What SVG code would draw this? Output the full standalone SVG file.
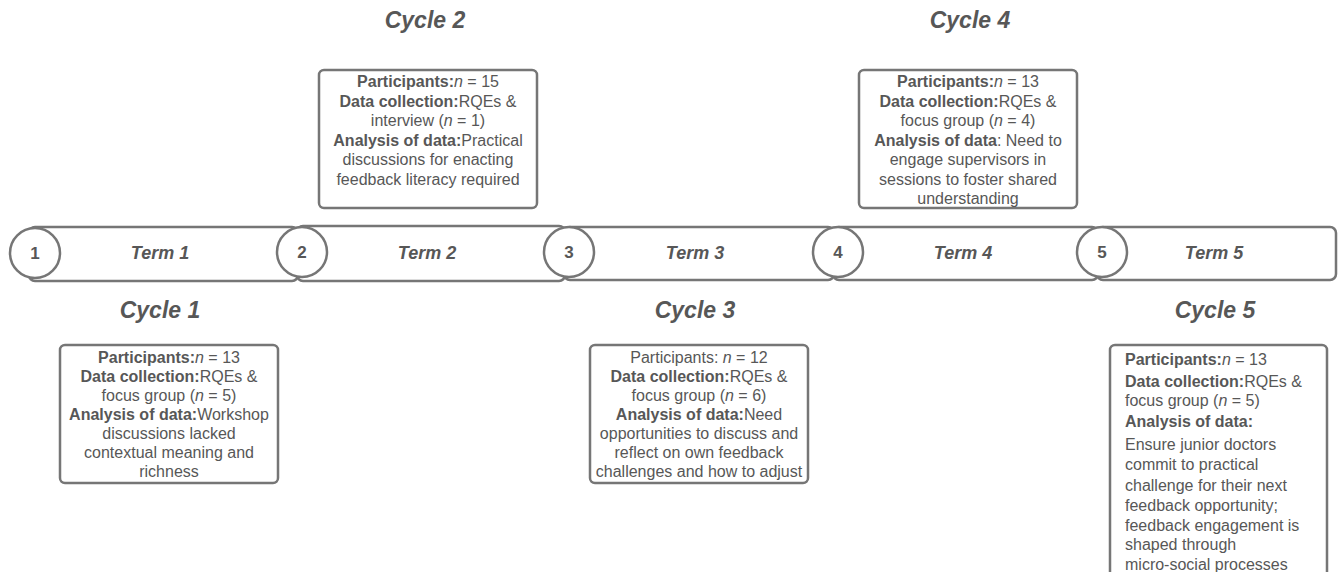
<svg xmlns="http://www.w3.org/2000/svg" width="1341" height="572" viewBox="0 0 1341 572">
<style>
text{font-family:"Liberation Sans",Arial,sans-serif;fill:#575757}
.h{font-size:23px;font-weight:bold;font-style:italic;text-anchor:middle}
.t{font-size:18px;font-weight:bold;font-style:italic;text-anchor:middle}
.n{font-size:17px;font-weight:bold;text-anchor:middle}
.bx{fill:#fff;stroke:#767676;stroke-width:2.5}
.bar{fill:#fff;stroke:#767676;stroke-width:2.5}
.c{fill:#fff;stroke:#767676;stroke-width:2.5}
.b{font-size:16px}
.m{text-anchor:middle}
.bd{font-weight:bold}
.it{font-style:italic}
</style>
<g id="timeline">
<rect class="bar" x="29" y="227" width="269" height="54" rx="6"/>
<rect class="bar" x="297" y="226" width="268" height="55" rx="6"/>
<rect class="bar" x="564" y="227" width="270" height="53" rx="6"/>
<rect class="bar" x="833" y="227" width="265" height="53" rx="6"/>
<rect class="bar" x="1097" y="227" width="239" height="53" rx="6"/>
<text class="t" x="160" y="259">Term 1</text>
<text class="t" x="427" y="259">Term 2</text>
<text class="t" x="695" y="259">Term 3</text>
<text class="t" x="963" y="259">Term 4</text>
<text class="t" x="1214" y="259">Term 5</text>
</g>
<g id="m1"><circle class="c" cx="35" cy="253" r="25"/><text class="n" x="35" y="259">1</text></g>
<g id="m2"><circle class="c" cx="302" cy="252" r="25"/><text class="n" x="302" y="258">2</text></g>
<g id="m3"><circle class="c" cx="569" cy="252" r="25"/><text class="n" x="569" y="258">3</text></g>
<g id="m4"><circle class="c" cx="838" cy="252" r="25"/><text class="n" x="838" y="258">4</text></g>
<g id="m5"><circle class="c" cx="1102" cy="252" r="25"/><text class="n" x="1102" y="258">5</text></g>
<g id="headings">
<text class="h" x="425" y="28">Cycle 2</text>
<text class="h" x="970" y="28">Cycle 4</text>
<text class="h" x="160" y="318">Cycle 1</text>
<text class="h" x="695" y="318">Cycle 3</text>
<text class="h" x="1215" y="318">Cycle 5</text>
</g>
<g id="cycle1">
<rect class="bx" x="60" y="345" width="218" height="138" rx="5"/>
<text class="b m"><tspan x="169" y="363"><tspan class="bd">Participants:</tspan><tspan class="it">n</tspan> = 13</tspan><tspan x="169" y="382"><tspan class="bd">Data collection:</tspan>RQEs &amp;</tspan><tspan x="169" y="401">focus group (<tspan class="it">n</tspan> = 5)</tspan><tspan x="169" y="420"><tspan class="bd">Analysis of data:</tspan>Workshop</tspan><tspan x="169" y="439">discussions lacked</tspan><tspan x="169" y="458">contextual meaning and</tspan><tspan x="169" y="477">richness</tspan></text>
</g>
<g id="cycle2">
<rect class="bx" x="319" y="70" width="218" height="138" rx="5"/>
<text class="b m"><tspan x="428" y="87"><tspan class="bd">Participants:</tspan><tspan class="it">n</tspan> = 15</tspan><tspan x="428" y="107"><tspan class="bd">Data collection:</tspan>RQEs &amp;</tspan><tspan x="428" y="126">interview (<tspan class="it">n</tspan> = 1)</tspan><tspan x="428" y="146"><tspan class="bd">Analysis of data:</tspan>Practical</tspan><tspan x="428" y="165">discussions for enacting</tspan><tspan x="428" y="185">feedback literacy required</tspan></text>
</g>
<g id="cycle3">
<rect class="bx" x="590" y="345" width="218" height="138" rx="5"/>
<text class="b m"><tspan x="699" y="363">Participants: <tspan class="it">n</tspan> = 12</tspan><tspan x="699" y="382"><tspan class="bd">Data collection:</tspan>RQEs &amp;</tspan><tspan x="699" y="401">focus group (<tspan class="it">n</tspan> = 6)</tspan><tspan x="699" y="420"><tspan class="bd">Analysis of data:</tspan>Need</tspan><tspan x="699" y="439">opportunities to discuss and</tspan><tspan x="699" y="458">reflect on own feedback</tspan><tspan x="699" y="477">challenges and how to adjust</tspan></text>
</g>
<g id="cycle4">
<rect class="bx" x="859" y="70" width="218" height="138" rx="5"/>
<text class="b m"><tspan x="968" y="87"><tspan class="bd">Participants:</tspan><tspan class="it">n</tspan> = 13</tspan><tspan x="968" y="107"><tspan class="bd">Data collection:</tspan>RQEs &amp;</tspan><tspan x="968" y="126">focus group (<tspan class="it">n</tspan> = 4)</tspan><tspan x="968" y="146"><tspan class="bd">Analysis of data</tspan>: Need to</tspan><tspan x="968" y="165">engage supervisors in</tspan><tspan x="968" y="185">sessions to foster shared</tspan><tspan x="968" y="204">understanding</tspan></text>
</g>
<g id="cycle5">
<rect class="bx" x="1110" y="345" width="217" height="240" rx="5"/>
<text class="b"><tspan x="1125" y="365"><tspan class="bd">Participants:</tspan><tspan class="it">n</tspan> = 13</tspan><tspan x="1125" y="387"><tspan class="bd">Data collection:</tspan>RQEs &amp;</tspan><tspan x="1125" y="406">focus group (<tspan class="it">n</tspan> = 5)</tspan><tspan x="1125" y="427" class="bd">Analysis of data:</tspan><tspan x="1125" y="450">Ensure junior doctors</tspan><tspan x="1125" y="470">commit to practical</tspan><tspan x="1125" y="491">challenge for their next</tspan><tspan x="1125" y="511">feedback opportunity;</tspan><tspan x="1125" y="531">feedback engagement is</tspan><tspan x="1125" y="550">shaped through</tspan><tspan x="1125" y="570">micro-social processes</tspan></text>
</g>
</svg>
